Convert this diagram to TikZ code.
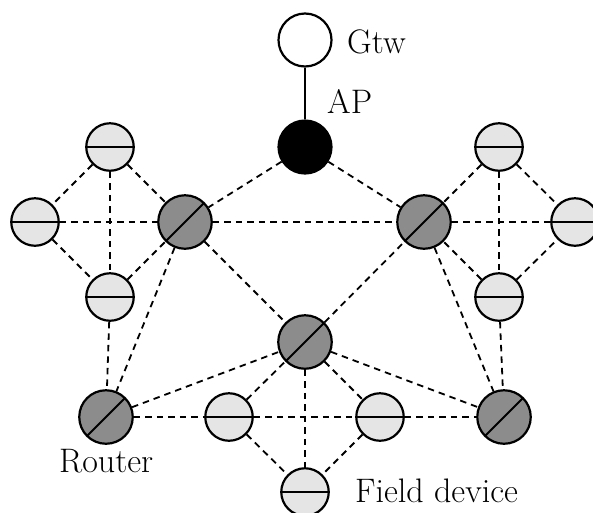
\documentclass[tikz,border=0pt]{standalone}
\usetikzlibrary{backgrounds}
\definecolor{lightfill}{gray}{0.9}
\definecolor{routerfill}{gray}{0.55}
\begin{document}
\begin{tikzpicture}[x=1pt,y=-1pt,
  dev/.style={circle,draw,line width=2.2pt,inner sep=0pt},
  fielddev/.style={dev,fill=lightfill,minimum size=47.5pt,
    path picture={\draw[line width=2pt] (path picture bounding box.west) -- (path picture bounding box.east);}},
  router/.style={dev,fill=routerfill,minimum size=53.5pt,
    path picture={\draw[line width=2pt] (path picture bounding box.south west) -- (path picture bounding box.north east);}},
  link/.style={line width=1.8pt,dash pattern=on 6.5pt off 5pt},
  lbl/.style={anchor=base west,inner sep=0pt,font=\fontsize{34}{40}\selectfont}]
\useasboundingbox (0,0) rectangle (593,512);
% nodes
\node[dev,minimum size=53pt,fill=white] (gtw) at (305,40) {};
\node[dev,minimum size=53pt,fill=black] (ap) at (305,147) {};
\node[fielddev] (L1) at (110,147) {};
\node[fielddev] (L2) at (35,222) {};
\node[fielddev] (L3) at (110,297) {};
\node[router] (RL) at (185,222) {};
\node[fielddev] (R1) at (499,147) {};
\node[fielddev] (R2) at (575,222) {};
\node[fielddev] (R3) at (499,297) {};
\node[router] (RR) at (424,222) {};
\node[router] (C) at (305,342) {};
\node[router] (BL) at (106,417) {};
\node[router] (BR) at (504,417) {};
\node[fielddev] (B1) at (229,417) {};
\node[fielddev] (B2) at (380,417) {};
\node[fielddev] (B3) at (305,492) {};
% labels
\node[lbl] (tgtw) at (347,53) {Gtw};
\node[lbl] (tap) at (327,113) {AP};
\node[lbl] (trouter) at (59,472) {Router};
\node[lbl] (tfield) at (355,502) {Field device};
% connectors
\begin{scope}[on background layer]
\draw[line width=1.8pt] (gtw) -- (ap);
\foreach \a/\b in {ap/RL,ap/RR,L2/RL,RL/RR,RR/R2,L1/L2,L1/L3,L1/RL,L2/L3,L3/RL,
  L3/BL,RL/BL,RL/C,BL/C,BL/B1,B1/C,B1/B2,B1/B3,C/RR,C/B2,C/BR,C/B3,B2/B3,B2/BR,
  RR/BR,R3/BR,R3/RR,R3/R2,R1/RR,R1/R3,R1/R2}
  \draw[link] (\a) -- (\b);
\end{scope}
\end{tikzpicture}
\end{document}
